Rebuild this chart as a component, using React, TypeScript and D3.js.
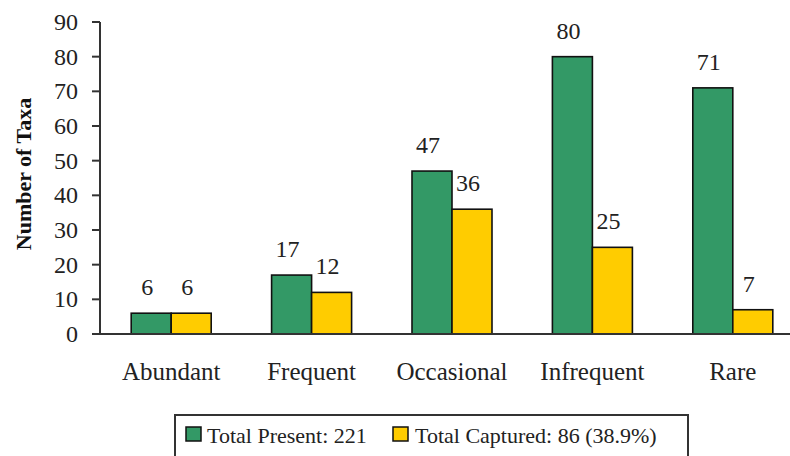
import React from "react";
import * as d3 from "d3";

const categories = ["Abundant", "Frequent", "Occasional", "Infrequent", "Rare"];
const totalPresent = [6, 17, 47, 80, 71];
const totalCaptured = [6, 12, 36, 25, 7];
const yTicks = [0, 10, 20, 30, 40, 50, 60, 70, 80, 90];
const seriesNames = ["Total Present: 221", "Total Captured: 86 (38.9%)"];
const seriesColors = ["#339966", "#FFCC00"];
const yLabel = "Number of Taxa";

const W = 790;
const H = 456;
const FONT = "'Liberation Serif', 'Times New Roman', serif";

export default function App() {
  const x = d3.scaleBand<string>().domain(categories).range([101, 803]).paddingInner(0).paddingOuter(0);
  const barW = 40;
  const y = d3.scaleLinear().domain([0, 90]).range([334, 22]);
  const series = [totalPresent, totalCaptured];
  const axisX = 100;

  return (
    <svg
      width={W}
      height={H}
      style={{ position: "absolute", left: 0, top: 0, background: "#fff" }}
      fontFamily={FONT}
    >
      <rect x={0} y={0} width={W} height={H} fill="#fff" />
      {/* bars */}
      {categories.map((c, i) => {
        const cx = (x(c) as number) + x.bandwidth() / 2;
        return series.map((s, k) => {
          const bx = cx - barW + k * barW;
          return (
            <g key={c + k}>
              <rect
                x={bx}
                y={y(s[i])}
                width={barW}
                height={y(0) - y(s[i])}
                fill={seriesColors[k]}
                stroke="#111"
                strokeWidth={1.6}
              />
              <text
                x={bx + barW / 2 - 4}
                y={y(s[i]) - 18}
                textAnchor="middle"
                fontSize={24}
                fill="#222"
              >
                {s[i]}
              </text>
            </g>
          );
        });
      })}
      {/* y axis */}
      <line x1={axisX} x2={axisX} y1={y(90)} y2={y(0)} stroke="#333" strokeWidth={2} />
      {yTicks.map((t) => (
        <g key={t}>
          <line x1={axisX - 8} x2={axisX} y1={y(t)} y2={y(t)} stroke="#333" strokeWidth={2} />
          <text x={78} y={y(t) + 8} textAnchor="end" fontSize={24} fill="#222">
            {t}
          </text>
        </g>
      ))}
      {/* x axis */}
      <line x1={axisX - 8} x2={W} y1={y(0)} y2={y(0)} stroke="#333" strokeWidth={2} />
      {categories.map((c) => (
        <text
          key={c}
          x={(x(c) as number) + x.bandwidth() / 2}
          y={380}
          textAnchor="middle"
          fontSize={25}
          fill="#222"
        >
          {c}
        </text>
      ))}
      {/* y label */}
      <text
        transform={`translate(31,174) rotate(-90)`}
        textAnchor="middle"
        fontSize={22}
        fontWeight="bold"
        fill="#111"
      >
        {yLabel}
      </text>
      {/* legend */}
      <rect x={175} y={415} width={513} height={60} fill="#fff" stroke="#333" strokeWidth={2} />
      <rect x={186} y={427} width={15} height={14} fill={seriesColors[0]} stroke="#111" strokeWidth={1.5} />
      <text x={207} y={443} fontSize={22} fill="#222">{seriesNames[0]}</text>
      <rect x={393} y={427} width={15} height={14} fill={seriesColors[1]} stroke="#111" strokeWidth={1.5} />
      <text x={415} y={443} fontSize={22} fill="#222">{seriesNames[1]}</text>
    </svg>
  );
}
